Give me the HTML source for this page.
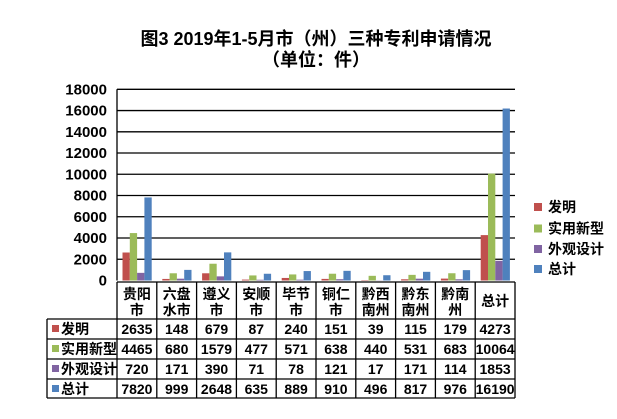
<!DOCTYPE html>
<html><head><meta charset="utf-8"><style>
body{margin:0;background:#fff;}
svg text{font-family:"Liberation Sans","Noto Sans CJK SC",sans-serif;font-weight:bold;fill:#000;}
</style></head><body>
<svg width="617" height="414" xmlns="http://www.w3.org/2000/svg">
<text x="316" y="45" text-anchor="middle" font-size="18">图3  2019年1-5月市（州）三种专利申请情况</text>
<text x="316" y="66" text-anchor="middle" font-size="18">（单位：件）</text>
<g id="grid"></g><g id="bars"></g><g id="tbl"></g><g id="legend"></g>
</svg>
<script>
const categories=[["贵阳","市"],["六盘","水市"],["遵义","市"],["安顺","市"],["毕节","市"],["铜仁","市"],["黔西","南州"],["黔东","南州"],["黔南","州"],["总计"]];
const seriesNames=["发明","实用新型","外观设计","总计"];
const colors=["#c0504d","#9bbb59","#8064a2","#4f81bd"];
const invention=[2635,148,679,87,240,151,39,115,179,4273];
const utility=[4465,680,1579,477,571,638,440,531,683,10064];
const design=[720,171,390,71,78,121,17,171,114,1853];
const total=[7820,999,2648,635,889,910,496,817,976,16190];
const series=[invention,utility,design,total];
const yTicks=[0,2000,4000,6000,8000,10000,12000,14000,16000,18000];
const NS="http://www.w3.org/2000/svg";
const X0=117,CW=39.8,Y0=280.5,YT=89.3,YMAX=18000;
const y=v=>Y0-(v/YMAX)*(Y0-YT);
const cx=i=>X0+i*CW;
function mk(tag,at,parent,txt){const e=document.createElementNS(NS,tag);for(const k in at)e.setAttribute(k,at[k]);if(txt!==undefined)e.textContent=txt;document.getElementById(parent).appendChild(e);return e;}
yTicks.forEach(t=>{
 if(t>0){const l=mk('line',{x1:X0,x2:X0+10*CW,y1:y(t),y2:y(t),stroke:'#000','stroke-width':1.3},'grid');
 
 }
 const tx=mk('text',{x:107,y:y(t)+5,'text-anchor':'end','font-size':15},'grid',String(t));
 
 
});
const ax=mk('line',{x1:X0,x2:X0,y1:YT,y2:Y0,stroke:'#000','stroke-width':1.3},'grid');


const BW=7.3;
series.forEach((s,si)=>s.forEach((v,i)=>{
 const r=mk('rect',{x:cx(i)+5.5+si*BW,y:y(v),width:BW,height:Y0-y(v),fill:colors[si]},'bars');
 
 
}));
const rows=[282,319,339,359,379,398];
const L=47,R=X0+10*CW;
mk('line',{x1:X0,x2:R,y1:282,y2:282,stroke:'#000','stroke-width':1.3},'tbl');
rows.slice(1).forEach(r=>mk('line',{x1:L,x2:R,y1:r,y2:r,stroke:'#000','stroke-width':1.3},'tbl'));
mk('line',{x1:L,x2:L,y1:319,y2:398,stroke:'#000','stroke-width':1.3},'tbl');
for(let i=0;i<=10;i++)mk('line',{x1:cx(i),x2:cx(i),y1:282,y2:398,stroke:'#000','stroke-width':1.3},'tbl');
categories.forEach((c,i)=>{
 const mid=cx(i)+CW/2;
 if(c.length===2){
  const a=mk('text',{x:mid,y:299,'text-anchor':'middle','font-size':14},'tbl',c[0]);
  
  
  mk('text',{x:mid,y:315,'text-anchor':'middle','font-size':14},'tbl',c[1]);
 } else {
  const a=mk('text',{x:mid,y:306,'text-anchor':'middle','font-size':14},'tbl',c[0]);
  
  
 }
});
series.forEach((s,si)=>{
 const ry=rows[si+1];
 mk('rect',{x:52,y:ry+6,width:7,height:7,fill:colors[si]},'tbl');
 const lb=mk('text',{x:61,y:ry+15,'font-size':14},'tbl',seriesNames[si]);
 
 
 s.forEach((v,i)=>{
  const t=mk('text',{x:cx(i)+CW/2,y:ry+15,'text-anchor':'middle','font-size':14},'tbl',String(v));
  
  
 });
});
const ly=[207,228.5,249,269];
seriesNames.forEach((n,si)=>{
 mk('rect',{x:534,y:ly[si]-4,width:8,height:8,fill:colors[si]},'legend');
 const t=mk('text',{x:548,y:ly[si]+5,'font-size':14},'legend',n);
 
 
});
</script>
</body></html>
